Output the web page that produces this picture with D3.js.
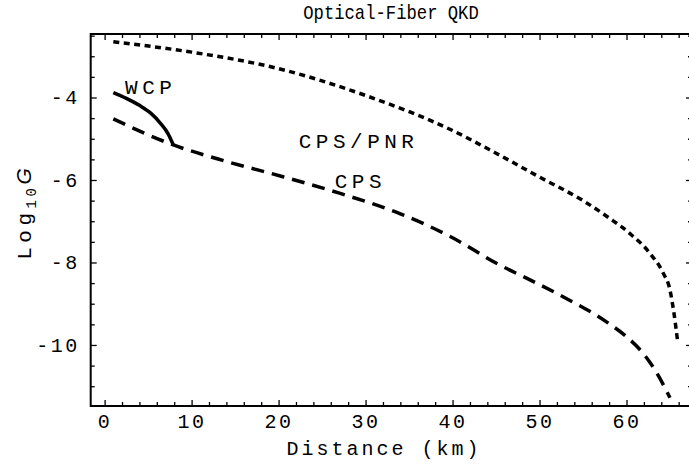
<!DOCTYPE html>
<html>
<head>
<meta charset="utf-8">
<script src="https://cdn.jsdelivr.net/npm/d3@7"></script>
<style>
  body { margin: 0; background: #fff; }
  text { font-family: "Liberation Mono", "DejaVu Sans Mono", monospace; fill: #000; }
</style>
</head>
<body>
<svg id="svg" width="689" height="467"></svg>
<script>
// curve samples: distance (km), log10 G
const wcpKm = [1, 2.5, 4, 5.3, 6.4, 7.3, 7.9]
const wcpLog = [-3.88, -4.02, -4.19, -4.38, -4.62, -4.88, -5.15]

const cpsKm = [1, 7.9, 14, 20.5, 27, 34, 40, 45.4, 48.5, 52.7, 57.7, 60, 61.9, 63.4, 65]
const cpsLog = [-4.52, -5.15, -5.55, -5.92, -6.32, -6.82, -7.4, -8.06, -8.38, -8.83, -9.44, -9.8, -10.2, -10.65, -11.28]

const pnrKm = [1, 10, 20, 30, 40, 45, 50, 55, 58, 60.4, 62.7, 64.2, 65, 65.4, 65.9]
const pnrLog = [-2.65, -2.9, -3.3, -3.95, -4.8, -5.35, -5.93, -6.5, -6.92, -7.3, -7.78, -8.25, -8.67, -9.15, -9.95]

const xMajor = [0, 10, 20, 30, 40, 50, 60]
const yMajor = [-10, -8, -6, -4]

const labels = [
  { text: 'WCP', km: 5.3, log: -3.78 },
  { text: 'CPS/PNR', km: 29.2, log: -5.08 },
  { text: 'CPS', km: 29.4, log: -6.07 }
]

const svg = d3.select('#svg')
const mLeft = 90.7, mRight = 692, mTop = 34, mBottom = 406

const x = d3.scaleLinear().domain([-1.6, 67.53]).range([mLeft, mRight])
const y = d3.scaleLinear().domain([-11.48, -2.46]).range([mBottom, mTop])

const xMinor = d3.range(0, 67, 2).filter(d => d % 10 !== 0)
const yMinor = d3.range(-11, -2.4, 0.5).filter(d => d % 2 !== 0)

const fmt = d => d < 0 ? '-' + Math.abs(d) : String(d)

function axisStyle(g) {
  g.select('.domain').remove()
  g.selectAll('line').attr('stroke', '#000').attr('stroke-width', 1.3)
  g.selectAll('text').style('font-size', '20px').style('letter-spacing', '2.5px')
}

// bottom
svg.append('g').attr('transform', `translate(0,${mBottom})`)
  .call(d3.axisBottom(x).tickValues(xMajor).tickSize(-6).tickPadding(8).tickFormat(fmt))
  .call(axisStyle)
svg.append('g').attr('transform', `translate(0,${mBottom})`)
  .call(d3.axisBottom(x).tickValues(xMinor).tickSize(-4).tickFormat(''))
  .call(axisStyle)
// top
svg.append('g').attr('transform', `translate(0,${mTop})`)
  .call(d3.axisTop(x).tickValues(xMajor).tickSize(-6).tickFormat(''))
  .call(axisStyle)
svg.append('g').attr('transform', `translate(0,${mTop})`)
  .call(d3.axisTop(x).tickValues(xMinor).tickSize(-4).tickFormat(''))
  .call(axisStyle)
// left
svg.append('g').attr('transform', `translate(${mLeft},0)`)
  .call(d3.axisLeft(y).tickValues(yMajor).tickSize(-6).tickPadding(11).tickFormat(fmt))
  .call(axisStyle)
svg.append('g').attr('transform', `translate(${mLeft},0)`)
  .call(d3.axisLeft(y).tickValues(yMinor).tickSize(-4).tickFormat(''))
  .call(axisStyle)
// right (frame sits just past the picture edge, only tick tips show)
svg.append('g').attr('transform', `translate(${mRight},0)`)
  .call(d3.axisRight(y).tickValues(yMajor).tickSize(-6).tickFormat(''))
  .call(axisStyle)
svg.append('g').attr('transform', `translate(${mRight},0)`)
  .call(d3.axisRight(y).tickValues(yMinor).tickSize(-4).tickFormat(''))
  .call(axisStyle)

// frame
svg.append('rect')
  .attr('x', mLeft).attr('y', mTop)
  .attr('width', mRight - mLeft).attr('height', mBottom - mTop)
  .attr('fill', 'none').attr('stroke', '#000').attr('stroke-width', 2)

const line = d3.line()
  .x(d => x(d[0]))
  .y(d => y(d[1]))
  .curve(d3.curveMonotoneX)

svg.append('path')
  .datum(d3.zip(pnrKm, pnrLog))
  .attr('d', line)
  .attr('fill', 'none').attr('stroke', '#000')
  .attr('stroke-width', 3.5).attr('stroke-dasharray', '6,4.5')

svg.append('path')
  .datum(d3.zip(cpsKm, cpsLog))
  .attr('d', line)
  .attr('fill', 'none').attr('stroke', '#000')
  .attr('stroke-width', 3.5).attr('stroke-dasharray', '13,8')

svg.append('path')
  .datum(d3.zip(wcpKm, wcpLog))
  .attr('d', line)
  .attr('fill', 'none').attr('stroke', '#000')
  .attr('stroke-width', 3.5)

svg.selectAll('.lbl')
  .data(labels)
  .enter()
  .append('text')
  .attr('class', 'lbl')
  .attr('x', d => x(d.km))
  .attr('y', d => y(d.log))
  .attr('text-anchor', 'middle')
  .attr('dominant-baseline', 'central')
  .style('font-size', '21px')
  .style('letter-spacing', '4.5px')
  .text(d => d.text)

// title and axis titles
svg.append('text')
  .attr('transform', 'translate(391,19) scale(0.82,1)')
  .attr('text-anchor', 'middle')
  .style('font-size', '21px')
  .text('Optical-Fiber QKD')

svg.append('text')
  .attr('x', 384).attr('y', 455)
  .attr('text-anchor', 'middle')
  .style('font-size', '20px')
  .style('letter-spacing', '3px')
  .text('Distance (km)')

const yl = svg.append('text')
  .attr('transform', 'translate(31,214) rotate(-90)')
  .attr('text-anchor', 'middle')
  .style('font-size', '21px')
yl.append('tspan').style('letter-spacing', '4.5px').text('Log')
yl.append('tspan').attr('dy', 5).style('font-size', '14px').style('letter-spacing', '3.5px').text('10')
yl.append('tspan').attr('dy', -5).style('font-style', 'italic').style('font-family', 'Liberation Sans').text('G')
</script>
</body>
</html>
